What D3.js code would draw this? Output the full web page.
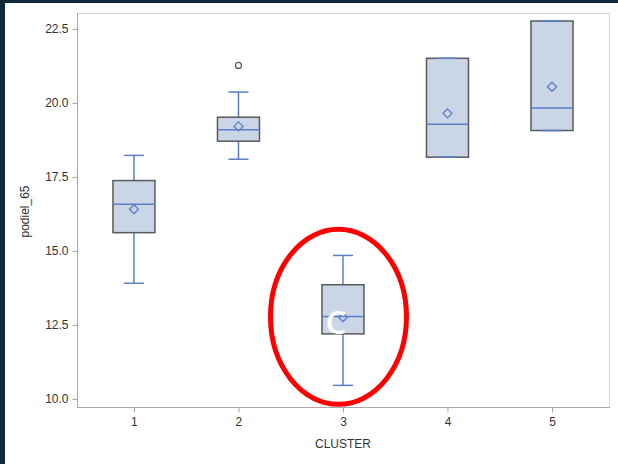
<!DOCTYPE html>
<html>
<head>
<meta charset="utf-8">
<script src="https://cdn.jsdelivr.net/npm/d3@7"></script>
<style>
  html, body { margin: 0; padding: 0; background: #ffffff; }
  svg { display: block; }
  text { font-family: "Liberation Sans", Arial, sans-serif; }
</style>
</head>
<body>
<script>
// Box-plot statistics per cluster
const clusters    = [1, 2, 3, 4, 5];
const whiskerLow  = [13.91, 18.10, 10.46, 18.17, 19.07];
const q1          = [15.62, 18.71, 12.20, 18.17, 19.07];
const median      = [16.58, 19.10, 12.79, 19.28, 19.83];
const q3          = [17.38, 19.52, 13.86, 21.51, 22.77];
const whiskerHigh = [18.23, 20.37, 14.85, 21.51, 22.77];
const mean        = [16.41, 19.21, 12.76, 19.65, 20.55];
const outliers    = [[], [21.27], [], [], []];
const yTicks      = [10.0, 12.5, 15.0, 17.5, 20.0, 22.5];
const xTitle = "CLUSTER";
const yTitle = "podiel_65";

const W = 618, H = 464;
const plot = { left: 77, top: 13, right: 610, bottom: 408 };

const svg = d3.select("body").append("svg")
  .attr("width", W).attr("height", H);

svg.append("rect").attr("width", W).attr("height", H).attr("fill", "#ffffff");
// dark window edges
svg.append("rect").attr("x", 0).attr("y", 0).attr("width", W).attr("height", 3).attr("fill", "#0c2a3c");
svg.append("rect").attr("x", 0).attr("y", 0).attr("width", 5).attr("height", H).attr("fill", "#0c2a3c");

const x = d3.scaleLinear().domain([0.455, 5.555]).range([plot.left, plot.right]);
const y = d3.scaleLinear().domain([10, 22.5]).range([399, 29]);

// frame
svg.append("line").attr("x1", plot.left).attr("x2", plot.right).attr("y1", plot.top + 0.5).attr("y2", plot.top + 0.5)
  .attr("stroke", "#d4d4d4");
svg.append("line").attr("x1", plot.right - 0.5).attr("x2", plot.right - 0.5).attr("y1", plot.top).attr("y2", plot.bottom)
  .attr("stroke", "#d4d4d4");

// axes
const yAxis = d3.axisLeft(y).tickValues(yTicks).tickFormat(d3.format(".1f")).tickSize(5).tickPadding(4);
const gy = svg.append("g").attr("transform", `translate(${plot.left + 0.5},0)`).call(yAxis);
gy.select(".domain").attr("d", `M0,${plot.top}V${plot.bottom}`).attr("stroke", "#a8a8a8");

const xAxis = d3.axisBottom(x).tickValues(clusters).tickFormat(d3.format("d")).tickSize(5).tickPadding(5);
const gx = svg.append("g").attr("transform", `translate(0,${plot.bottom - 0.5})`).call(xAxis);
gx.select(".domain").attr("d", `M${plot.left},0H${plot.right}`).attr("stroke", "#a8a8a8");

[gx, gy].forEach(g => {
  g.selectAll(".tick line").attr("stroke", "#a8a8a8");
  g.selectAll(".tick text").attr("fill", "#333333")
    .style("font-family", '"Liberation Sans", Arial, sans-serif').style("font-size", "12px");
});

// axis titles
svg.append("text").attr("x", x(3)).attr("y", 448).attr("text-anchor", "middle")
  .attr("fill", "#333333").style("font-size", "12px").text(xTitle);
svg.append("text").attr("transform", `translate(29,${(plot.top + plot.bottom) / 2 + 1}) rotate(-90)`)
  .attr("text-anchor", "middle").attr("fill", "#333333").style("font-size", "12px").text(yTitle);

// boxes
const boxW = 42, capW = 20;
const blue = "#5b7ec9", boxStroke = "#5a5a5a", boxFill = "#cad5e6";

const data = clusters.map((c, i) => ({
  c, lo: whiskerLow[i], q1: q1[i], med: median[i], q3: q3[i], hi: whiskerHigh[i], mean: mean[i], out: outliers[i]
}));

const g = svg.append("g");
const grp = g.selectAll("g.box").data(data).join("g").attr("class", "box");

// whiskers
grp.append("line").attr("x1", d => x(d.c)).attr("x2", d => x(d.c))
  .attr("y1", d => y(d.hi)).attr("y2", d => y(d.q3)).attr("stroke", blue).attr("stroke-width", 1.5);
grp.append("line").attr("x1", d => x(d.c)).attr("x2", d => x(d.c))
  .attr("y1", d => y(d.q1)).attr("y2", d => y(d.lo)).attr("stroke", blue).attr("stroke-width", 1.5);

// box body
grp.append("rect")
  .attr("x", d => x(d.c) - boxW / 2).attr("width", boxW)
  .attr("y", d => y(d.q3)).attr("height", d => y(d.q1) - y(d.q3))
  .attr("fill", boxFill).attr("stroke", boxStroke).attr("stroke-width", 1.5);

// caps
grp.append("line").attr("x1", d => x(d.c) - capW / 2).attr("x2", d => x(d.c) + capW / 2)
  .attr("y1", d => y(d.hi)).attr("y2", d => y(d.hi)).attr("stroke", blue).attr("stroke-width", 1.5);
grp.append("line").attr("x1", d => x(d.c) - capW / 2).attr("x2", d => x(d.c) + capW / 2)
  .attr("y1", d => y(d.lo)).attr("y2", d => y(d.lo)).attr("stroke", blue).attr("stroke-width", 1.5);

// median
grp.append("line").attr("x1", d => x(d.c) - boxW / 2 + 0.75).attr("x2", d => x(d.c) + boxW / 2 - 0.75)
  .attr("y1", d => y(d.med)).attr("y2", d => y(d.med)).attr("stroke", blue).attr("stroke-width", 1.5);

// mean diamond
grp.append("path")
  .attr("d", d => { const cx = x(d.c), cy = y(d.mean), r = 4.5; return `M${cx},${cy - r}L${cx + r},${cy}L${cx},${cy + r}L${cx - r},${cy}Z`; })
  .attr("fill", "none").attr("stroke", blue).attr("stroke-width", 1.3);

// outliers
grp.selectAll("circle").data(d => d.out.map(v => ({ c: d.c, v }))).join("circle")
  .attr("cx", d => x(d.c)).attr("cy", d => y(d.v)).attr("r", 3)
  .attr("fill", "none").attr("stroke", "#555555").attr("stroke-width", 1.2);

// highlight around cluster 3
const hx = x(3) - 5, hy = y(12.76) - 0.5;
svg.append("ellipse").attr("cx", hx + 0.5).attr("cy", hy).attr("rx", 68).attr("ry", 87.5)
  .attr("fill", "none").attr("stroke", "#ff0000").attr("stroke-width", 5);
svg.append("text").attr("x", x(3) - 7).attr("y", y(12.2)).attr("text-anchor", "middle")
  .attr("fill", "#ffffff").style("font-family", '"Open Sans", "DejaVu Sans", sans-serif')
  .style("font-weight", "600").style("font-size", "33px").text("C");
</script>
</body>
</html>
